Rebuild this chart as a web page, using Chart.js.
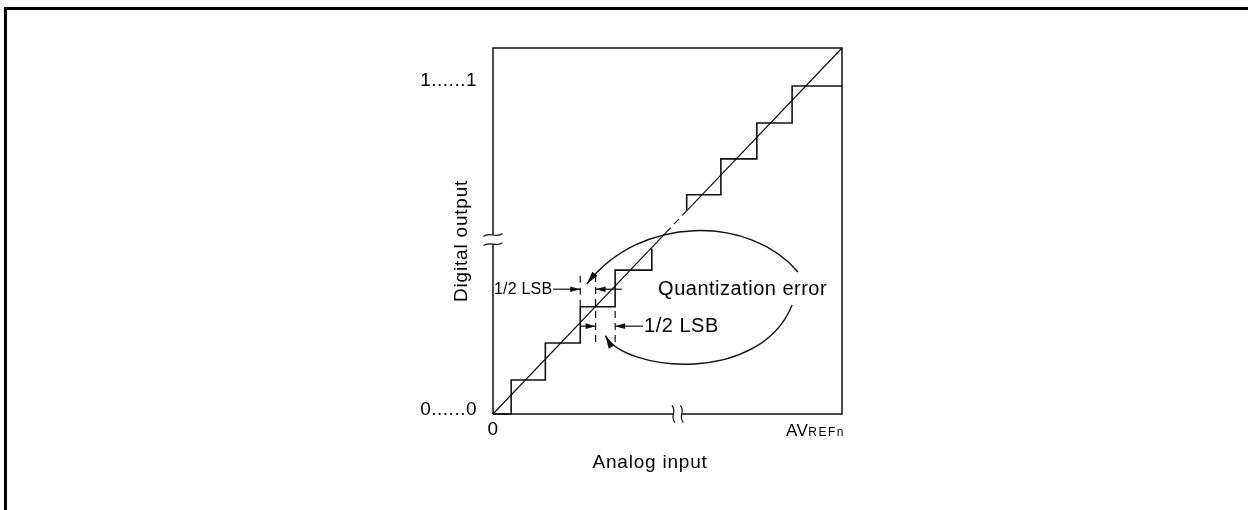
<!DOCTYPE html>
<html><head><meta charset="utf-8">
<script src="https://cdn.jsdelivr.net/npm/chart.js@4/dist/chart.umd.min.js"></script>
<style>
html,body{margin:0;padding:0;background:#fff;}
#wrap{position:relative;width:1248px;height:510px;overflow:hidden;background:#fff;}
#frame{position:absolute;left:4px;top:7px;right:-10px;bottom:-10px;border-top:3px solid #000;border-left:3px solid #000;pointer-events:none;}
canvas{position:absolute;left:0;top:0;}
</style></head><body>
<div id="wrap"><canvas id="c" width="1248" height="510"></canvas><div id="frame"></div></div>
<script>
// ---------- data (in LSB units, axis 0..10) ----------
const xTickValues = [0];
const xTickLabels = ['0'];
const yTickValues = [0, 9];
const yTickLabels = ['0......0', '1......1'];

const lowStepX  = [0, 0.52, 0.52, 1.5, 1.5, 2.5, 2.5, 3.5, 3.5, 4.55, 4.55];
const lowStepY  = [0, 0, 0.93, 0.93, 1.94, 1.94, 2.93, 2.93, 3.93, 3.93, 4.52];
const highStepX = [5.55, 5.55, 6.53, 6.53, 7.56, 7.56, 8.57, 8.57, 10];
const highStepY = [5.55, 5.99, 5.99, 6.97, 6.97, 7.95, 7.95, 8.96, 8.96];

const idealLowX  = [0, 4.95];     const idealLowY  = [0, 4.95];
const idealGapX  = [4.95, 5.55];  const idealGapY  = [4.95, 5.55];
const idealHighX = [5.55, 10];    const idealHighY = [5.55, 10];

const guideAX = [2.5, 2.5];   const guideAY = [2.93, 3.89];
const guideBX = [2.94, 2.94]; const guideBY = [1.97, 3.89];
const guideCX = [3.5, 3.5];   const guideCY = [1.97, 2.93];

const halfLsbFromX = [1.72, 3.69, 2.5, 4.30];
const halfLsbToX   = [2.5, 2.94, 2.94, 3.5];
const halfLsbY     = [3.41, 3.41, 2.40, 2.40];

const upperCurveX = [8.74, 7.36, 4.21, 2.69];
const upperCurveY = [3.88, 5.44, 5.44, 3.55];
const lowerCurveX = [8.57, 7.65, 3.78, 3.22];
const lowerCurveY = [2.98, 0.79, 1.15, 2.14];

const noteTexts = ['1/2 LSB', 'Quantization error', '1/2 LSB'];
const noteX = [1.70, 4.73, 4.33];
const noteY = [3.41, 3.41, 2.40];

const yBreak = [4.64, 4.89];
const xBreak = [5.17, 5.41];

const xTitle = 'Analog input';
const yTitle = 'Digital output';
const xEndMain = 'AV', xEndSub = 'REFn';

// ---------- helpers ----------
const FAM = '"Liberation Sans", Arial, Helvetica, sans-serif';
const INK = '#111';
const pts = (xs, ys) => xs.map((x, i) => ({x, y: ys[i]}));

function lineDs(xs, ys, width, dash) {
  return { data: pts(xs, ys), showLine: true, pointRadius: 0, borderColor: INK,
    borderWidth: width, borderDash: dash || [], fill: false, tension: 0, clip: false };
}

function head(ctx, tx, ty, fx, fy, len, half) {
  const a = Math.atan2(ty - fy, tx - fx);
  const c = Math.cos(a), s = Math.sin(a);
  ctx.beginPath();
  ctx.moveTo(tx, ty);
  ctx.lineTo(tx - len * c + half * s, ty - len * s - half * c);
  ctx.lineTo(tx - len * c - half * s, ty - len * s + half * c);
  ctx.closePath();
  ctx.fill();
}

function txt(ctx, s, x, y, size, spacing, align, rot) {
  ctx.save();
  ctx.font = size + 'px ' + FAM;
  ctx.letterSpacing = spacing + 'px';
  ctx.fillStyle = '#000';
  ctx.textAlign = align;
  ctx.textBaseline = 'middle';
  ctx.translate(x, y);
  if (rot) ctx.rotate(rot);
  ctx.fillText(s, 0, 0);
  ctx.restore();
}

const deco = {
  id: 'deco',
  beforeDraw(chart) { chart.ctx.letterSpacing = '0.5px'; },
  afterDatasetsDraw(chart) {
    const ctx = chart.ctx, X = chart.scales.x, Y = chart.scales.y;
    const px = v => X.getPixelForValue(v), py = v => Y.getPixelForValue(v);
    ctx.save();
    ctx.strokeStyle = INK; ctx.fillStyle = INK; ctx.lineCap = 'butt';

    // plot frame with axis breaks
    ctx.lineWidth = 1.5;
    ctx.beginPath();
    ctx.moveTo(px(0), py(0)); ctx.lineTo(px(0), py(yBreak[0]));
    ctx.moveTo(px(0), py(yBreak[1])); ctx.lineTo(px(0), py(10));
    ctx.lineTo(px(10), py(10)); ctx.lineTo(px(10), py(0));
    ctx.lineTo(px(xBreak[1]), py(0));
    ctx.moveTo(px(xBreak[0]), py(0)); ctx.lineTo(px(0), py(0));
    ctx.stroke();

    // break marks
    ctx.lineWidth = 1.2;
    yBreak.forEach(v => {
      const cx = px(0), cy = py(v);
      ctx.beginPath();
      ctx.moveTo(cx - 9.5, cy + 1.5);
      ctx.bezierCurveTo(cx - 4, cy - 4, cx + 4, cy + 4, cx + 9.5, cy - 1.5);
      ctx.stroke();
    });
    xBreak.forEach(v => {
      const cx = px(v), cy = py(0);
      ctx.beginPath();
      ctx.moveTo(cx - 1.5, cy - 8.5);
      ctx.bezierCurveTo(cx + 4, cy - 3, cx - 4, cy + 3, cx + 1.5, cy + 8.5);
      ctx.stroke();
    });

    // 1/2 LSB arrows
    ctx.lineWidth = 1.2;
    halfLsbFromX.forEach((fx, i) => {
      const a = px(fx), b = px(halfLsbToX[i]), y = py(halfLsbY[i]);
      ctx.beginPath(); ctx.moveTo(a, y); ctx.lineTo(b, y); ctx.stroke();
      head(ctx, b, y, a, y, 10, 2.8);
    });

    // quantization error curves
    [[upperCurveX, upperCurveY], [lowerCurveX, lowerCurveY]].forEach(([cx, cy]) => {
      const p = cx.map((x, i) => [px(x), py(cy[i])]);
      ctx.lineWidth = 1.4;
      ctx.beginPath();
      ctx.moveTo(p[0][0], p[0][1]);
      ctx.bezierCurveTo(p[1][0], p[1][1], p[2][0], p[2][1], p[3][0], p[3][1]);
      ctx.stroke();
      head(ctx, p[3][0], p[3][1], p[2][0], p[2][1], 13, 3.2);
    });
    ctx.restore();

    // annotation texts
    txt(ctx, noteTexts[0], px(noteX[0]), py(noteY[0]), 16, 0.2, 'right');
    txt(ctx, noteTexts[1], px(noteX[1]), py(noteY[1]), 20, 0.5, 'left');
    txt(ctx, noteTexts[2], px(noteX[2]), py(noteY[2]), 20, 0.5, 'left');

    // axis titles
    const ca = chart.chartArea;
    txt(ctx, yTitle, ca.left - 31.5, py(4.73), 19, 0.8, 'center', -Math.PI / 2);
    txt(ctx, xTitle, px(4.5), ca.bottom + 49, 19, 0.8, 'center');

    // AV REFn end label
    ctx.save();
    ctx.fillStyle = '#000';
    ctx.textBaseline = 'alphabetic';
    ctx.textAlign = 'left';
    ctx.font = '12px ' + FAM; ctx.letterSpacing = '1.5px';
    const wSub = ctx.measureText(xEndSub).width;
    ctx.font = '17px ' + FAM; ctx.letterSpacing = '0.5px';
    const wMain = ctx.measureText(xEndMain).width;
    const right = px(10) + 3, base = ca.bottom + 22;
    ctx.fillText(xEndMain, right - wSub - wMain, base);
    ctx.font = '12px ' + FAM; ctx.letterSpacing = '1.5px';
    ctx.fillText(xEndSub, right - wSub, base);
    ctx.restore();
  }
};

new Chart(document.getElementById('c'), {
  type: 'scatter',
  data: {
    datasets: [
      lineDs(lowStepX, lowStepY, 1.6),
      lineDs(highStepX, highStepY, 1.6),
      lineDs(idealLowX, idealLowY, 1.2),
      lineDs(idealGapX, idealGapY, 1.2, [7, 5]),
      lineDs(idealHighX, idealHighY, 1.2),
      lineDs(guideAX, guideAY, 1.2, [7, 5]),
      lineDs(guideBX, guideBY, 1.2, [7, 5]),
      lineDs(guideCX, guideCY, 1.2, [7, 5])
    ]
  },
  options: {
    responsive: false, animation: false, devicePixelRatio: 1,
    layout: { padding: { left: 400, top: 48, right: 406, bottom: 26 } },
    plugins: { legend: { display: false }, tooltip: { enabled: false } },
    scales: {
      x: {
        type: 'linear', min: 0, max: 10,
        grid: { display: false, drawTicks: false }, border: { display: false },
        afterBuildTicks: s => { s.ticks = xTickValues.map(v => ({ value: v })); },
        afterFit: s => { s.height = 70; },
        ticks: { autoSkip: false, maxRotation: 0, padding: 4, color: '#000',
          font: { family: FAM, size: 19 },
          callback: (v, i) => xTickLabels[i] }
      },
      y: {
        type: 'linear', min: 0, max: 10,
        grid: { display: false, drawTicks: false }, border: { display: false },
        afterBuildTicks: s => { s.ticks = yTickValues.map(v => ({ value: v })); },
        afterFit: s => { s.width = 93; },
        ticks: { autoSkip: false, padding: 16, labelOffset: -4, color: '#000',
          font: { family: FAM, size: 19 },
          callback: (v, i) => yTickLabels[i] }
      }
    }
  },
  plugins: [deco]
});
</script>
</body></html>
